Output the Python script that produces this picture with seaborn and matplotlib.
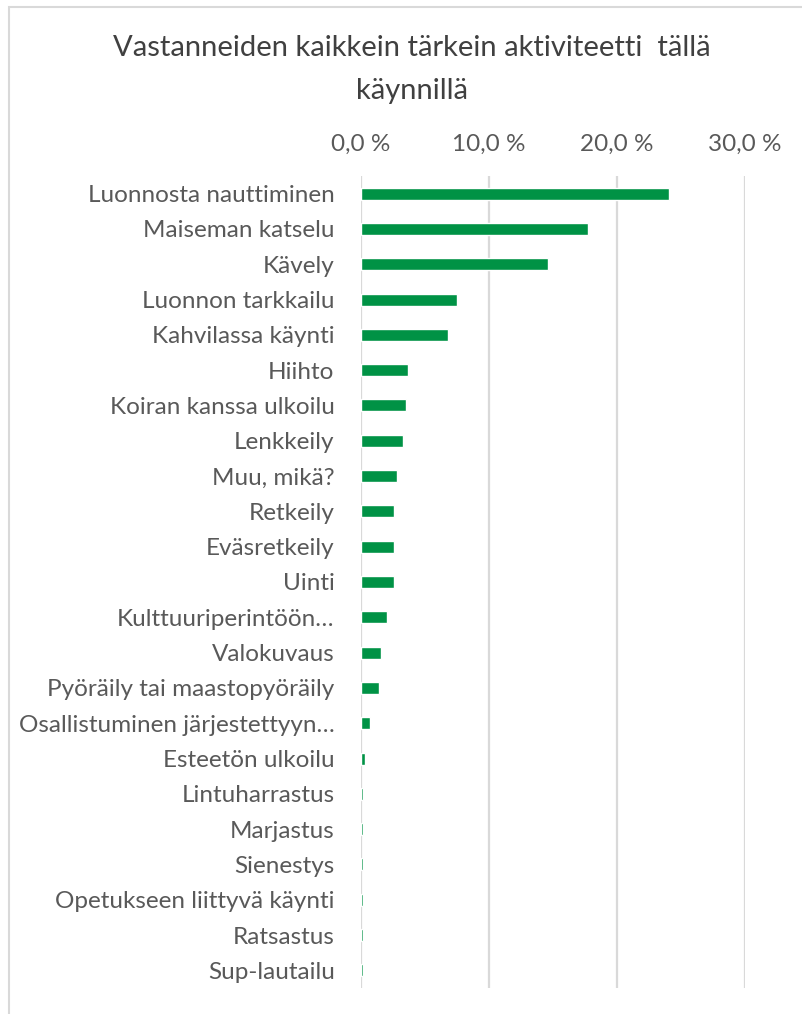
import matplotlib
matplotlib.use("Agg")
import matplotlib.pyplot as plt
import seaborn as sns
import pandas as pd
from matplotlib.patches import Rectangle
from matplotlib.ticker import FuncFormatter

activities = [
    "Luonnosta nauttiminen", "Maiseman katselu", "Kävely", "Luonnon tarkkailu",
    "Kahvilassa käynti", "Hiihto", "Koiran kanssa ulkoilu", "Lenkkeily",
    "Muu, mikä?", "Retkeily", "Eväsretkeily", "Uinti",
    "Kulttuuriperintöön…", "Valokuvaus", "Pyöräily tai maastopyöräily",
    "Osallistuminen järjestettyyn…", "Esteetön ulkoilu", "Lintuharrastus",
    "Marjastus", "Sienestys", "Opetukseen liittyvä käynti", "Ratsastus",
    "Sup-lautailu",
]
shares = [24.1, 17.7, 14.6, 7.5, 6.8, 3.7, 3.5, 3.3, 2.8, 2.6, 2.6, 2.6,
          2.0, 1.6, 1.4, 0.7, 0.35, 0.15, 0.15, 0.15, 0.15, 0.15, 0.15]
x_ticks = [0, 10, 20, 30]
title_lines = ["Vastanneiden kaikkein tärkein aktiviteetti  tällä", "käynnillä"]

sns.set_theme(style="white")
plt.rcParams["font.family"] = ["Lato", "DejaVu Sans"]

df = pd.DataFrame({"activity": activities, "share": shares})

fig = plt.figure(figsize=(8.02, 10.14), dpi=100)
ax = fig.add_axes([361 / 802, 1 - 988 / 1014, (745 - 361) / 802, (988 - 176) / 1014])

sns.barplot(data=df, x="share", y="activity", orient="h", color="#009245",
            width=0.34, saturation=1, ax=ax, zorder=3)

ax.set_xlim(0, 30)
ax.set_ylim(len(activities) - 0.5, -0.5)
ax.set_xticks(x_ticks)
ax.xaxis.set_major_formatter(FuncFormatter(lambda v, p: f"{v:.1f}".replace(".", ",") + " %"))
ax.xaxis.tick_top()
ax.set_xlabel("")
ax.set_ylabel("")
ax.grid(axis="x", color="#D9D9D9", linewidth=1.6, zorder=0)
ax.set_axisbelow(True)
for s in ax.spines.values():
    s.set_visible(False)
ax.tick_params(axis="x", length=0, pad=15, labelsize=17.5, labelcolor="#595959")
ax.tick_params(axis="y", length=0, pad=19, labelsize=17.5, labelcolor="#595959")

for line, ypx in zip(title_lines, [48, 91]):
    fig.text(412 / 802, 1 - ypx / 1014, line, ha="center", va="center",
             fontsize=21, color="#404040")

fig.add_artist(Rectangle((9 / 802, -0.1), 1.2, 1 - 7 / 1014 + 0.1,
                         transform=fig.transFigure, fill=False,
                         edgecolor="#D9D9D9", linewidth=1.5))

fig.savefig("out.png", dpi=100)
